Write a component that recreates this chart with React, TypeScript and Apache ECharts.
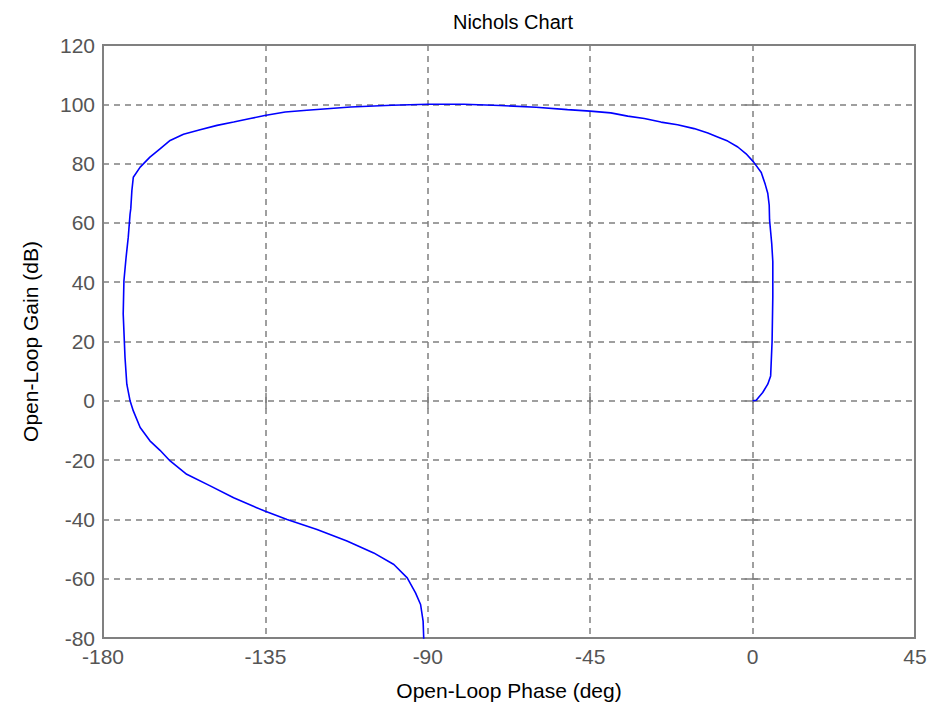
import React, { useEffect, useRef } from "react";
import * as echarts from "echarts";

const phaseDeg: number[] = [
  0, 1.0, 2.8, 4.2, 5.0, 5.4, 5.6, 5.6, 5.3, 5.0, 4.7, 4.6, 4.2, 3.5, 2.4, 0.3,
  -1.8, -4.1, -6.9, -9.7, -12.4, -16.2, -20.8, -25.4, -30.0, -34.6, -39.3, -45.0,
  -51.3, -60, -70, -80, -90, -100, -111.4, -117.9, -123.5, -129.5, -135.2, -139.2,
  -143.8, -148.4, -153.1, -157.7, -161.4, -164.2, -167.0, -169.7, -171.6, -172.0,
  -172.3, -172.5, -173.0, -173.6, -174.2, -174.4, -173.9, -173.4, -172.5, -171.6,
  -169.7, -167.0, -164.2, -161.4, -156.8, -150.3, -143.8, -135.2, -129.0, -120.7,
  -112.4, -105.0, -99.4, -95.7, -93.4, -92.0, -91.3, -91.1,
];
const gainDb: number[] = [
  0, 0.2, 2.8, 5.6, 8.4, 20, 35, 47, 53, 57, 61, 66, 70, 73, 77, 80.5,
  83.3, 85.6, 87.6, 89.0, 90.3, 91.8, 93.1, 94.0, 95.2, 96.0, 97.1, 97.7,
  98.2, 99.0, 99.6, 100, 100, 99.7, 99.1, 98.5, 98.0, 97.4, 96.2, 95.2,
  94.0, 92.9, 91.4, 89.9, 87.8, 85.0, 82.2, 78.8, 75.4, 70.9,
  64.8, 63, 55.2, 48.4, 40.5, 29.3, 14.6, 5.6, 0, -3.4,
  -9.0, -13.5, -16.7, -20.3, -24.8, -28.7, -32.7, -37.2, -40.0, -43.4,
  -47.3, -51.3, -55.2, -59.7, -64.8, -68.7, -74.3, -81,
];
const xTicks = { min: -180, max: 45, interval: 45 };
const yTicks = { min: -80, max: 120, interval: 20 };

const FONT = "'Liberation Sans', Arial, sans-serif";
const GRAY = "#808080";

export default function App() {
  const ref = useRef<HTMLDivElement>(null);
  useEffect(() => {
    if (!ref.current) return;
    const chart = echarts.init(ref.current, null, { renderer: "svg" });
    const data = phaseDeg.map((p, i) => [p, gainDb[i]]);
    const splitLine = { show: true, lineStyle: { color: GRAY, width: 1.5, type: [6, 5] as any } };
    const tick = { show: true, inside: true, length: 8, lineStyle: { color: GRAY, width: 1.5 } };
    chart.setOption({
      animation: false,
      backgroundColor: "#ffffff",
      title: {
        text: "Nichols Chart",
        left: 508,
        top: 7,
        textAlign: "center",
        textStyle: { fontFamily: FONT, fontSize: 20, fontWeight: "normal", color: "#000" },
      },
      grid: {
        left: 103,
        top: 45,
        right: 16,
        bottom: 70,
        show: true,
        borderColor: GRAY,
        borderWidth: 2,
        containLabel: false,
      },
      xAxis: [
        {
          type: "value",
          ...xTicks,
          position: "bottom",
          name: "Open-Loop Phase (deg)",
          nameLocation: "middle",
          nameGap: 42,
          nameTextStyle: { fontFamily: FONT, fontSize: 21, color: "#000" },
          axisLine: { show: false },
          axisTick: tick,
          splitLine,
          axisLabel: { fontFamily: FONT, fontSize: 21, color: "#555", margin: 8 },
        },
        {
          type: "value",
          ...xTicks,
          position: "top",
          axisLine: { show: false },
          axisTick: tick,
          splitLine: { show: false },
          axisLabel: { show: false },
        },
      ],
      yAxis: [
        {
          type: "value",
          ...yTicks,
          position: "left",
          name: "Open-Loop Gain (dB)",
          nameLocation: "middle",
          nameGap: 62,
          nameTextStyle: { fontFamily: FONT, fontSize: 21, color: "#000" },
          axisLine: { show: false },
          axisTick: tick,
          splitLine,
          axisLabel: { fontFamily: FONT, fontSize: 21, color: "#555", margin: 8 },
        },
        {
          type: "value",
          ...yTicks,
          position: "right",
          axisLine: { show: false },
          axisTick: tick,
          splitLine: { show: false },
          axisLabel: { show: false },
        },
      ],
      series: [
        {
          type: "line",
          data,
          showSymbol: false,
          symbol: "none",
          smooth: false,
          clip: true,
          lineStyle: { color: "#0000ff", width: 1.6 },
        },
      ],
    });
    return () => chart.dispose();
  }, []);
  return (
    <div
      ref={ref}
      style={{ position: "fixed", left: 0, top: 0, width: 931, height: 708 }}
    />
  );
}
